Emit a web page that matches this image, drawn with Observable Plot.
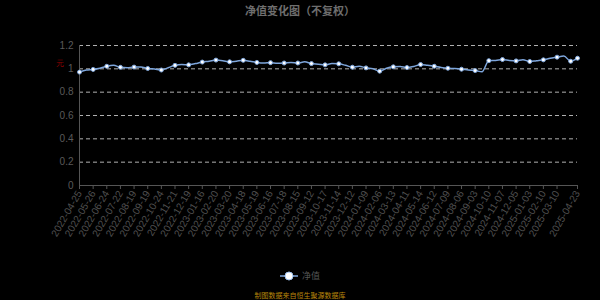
<!DOCTYPE html>
<html>
<head>
<meta charset="utf-8">
<script src="https://cdn.jsdelivr.net/npm/d3@7"></script>
<script src="https://cdn.jsdelivr.net/npm/@observablehq/plot@0.6"></script>
<style>
  html, body { margin: 0; padding: 0; background: #000; }
  #wrap { position: relative; width: 600px; height: 300px; background: #000; overflow: hidden;
          font-family: "Liberation Sans", "Noto Sans CJK SC", sans-serif; }
  #title { position: absolute; left: 0; top: 3px; width: 600px; text-align: center;
           font: bold 11px "Noto Sans CJK SC", sans-serif; color: #6e6e6e; line-height: 14px; }
  #chart { position: absolute; left: 0; top: 22px; }
  #legend { position: absolute; left: 0; top: 269px; width: 600px; height: 14px; }
  #caption { position: absolute; left: 0; top: 290px; width: 600px; text-align: center;
             font: 7px "Noto Sans CJK SC", sans-serif; color: #b8860b; line-height: 10px; }
</style>
</head>
<body>
<div id="wrap">
  <div id="title">净值变化图（不复权）</div>
  <div id="chart"></div>
  <div id="legend"></div>
  <div id="caption">制图数据来自恒生聚源数据库</div>
</div>
<script>
// Sampled trading dates (every ~10 trading days) and unit NAV
const sampleDates = [
  "2022-04-25","2022-05-11","2022-05-26","2022-06-09","2022-06-24","2022-07-08","2022-07-22","2022-08-05",
  "2022-08-19","2022-09-02","2022-09-19","2022-10-10","2022-10-24","2022-11-07","2022-11-21","2022-12-05",
  "2022-12-19","2023-01-03","2023-01-16","2023-02-06","2023-02-20","2023-03-06","2023-03-20","2023-04-03",
  "2023-04-18","2023-05-05","2023-05-19","2023-06-02","2023-06-16","2023-07-04","2023-07-18","2023-08-01",
  "2023-08-15","2023-08-29","2023-09-12","2023-09-26","2023-10-17","2023-10-31","2023-11-14","2023-11-28",
  "2023-12-12","2023-12-26","2024-01-09","2024-01-23","2024-02-06","2024-02-27","2024-03-13","2024-03-27",
  "2024-04-11","2024-04-25","2024-05-14","2024-05-28","2024-06-12","2024-06-26","2024-07-09","2024-07-23",
  "2024-08-06","2024-08-20","2024-09-03","2024-09-18","2024-10-10","2024-10-24","2024-11-07","2024-11-21",
  "2024-12-05","2024-12-19","2025-01-03","2025-01-17","2025-02-10","2025-02-24","2025-03-10","2025-03-24",
  "2025-04-08","2025-04-23"
];
const navValues = [
  0.972, 0.990, 0.995, 1.005, 1.022, 1.030, 1.013, 1.010,
  1.015, 1.015, 1.003, 0.998, 0.990, 1.010, 1.030, 1.038,
  1.034, 1.045, 1.058, 1.065, 1.075, 1.070, 1.060, 1.066,
  1.073, 1.065, 1.055, 1.050, 1.053, 1.048, 1.050, 1.055,
  1.050, 1.060, 1.045, 1.040, 1.034, 1.045, 1.043, 1.030,
  1.014, 1.022, 1.008, 1.000, 0.980, 1.005, 1.017, 1.020,
  1.011, 1.020, 1.037, 1.030, 1.022, 1.012, 1.005, 1.002,
  0.997, 0.990, 0.985, 0.975, 1.070, 1.072, 1.080, 1.072,
  1.068, 1.078, 1.063, 1.070, 1.077, 1.090, 1.100, 1.110,
  1.065, 1.091
];
// Dates shown as x tick labels
const labelDates = [
  "2022-04-25","2022-05-26","2022-06-24","2022-07-22","2022-08-19","2022-09-19","2022-10-24","2022-11-21",
  "2022-12-19","2023-01-16","2023-02-20","2023-03-20","2023-04-18","2023-05-19","2023-06-16","2023-07-18",
  "2023-08-15","2023-09-12","2023-10-17","2023-11-14","2023-12-12","2024-01-09","2024-02-06","2024-03-13",
  "2024-04-11","2024-05-14","2024-06-12","2024-07-09","2024-08-06","2024-09-03","2024-10-10","2024-11-07",
  "2024-12-05","2025-01-03","2025-02-10","2025-03-10","2025-04-23"
];
// Dates carrying a marker symbol
const markerDates = labelDates.concat(["2025-04-08"]);
const yTicks = [0, 0.2, 0.4, 0.6, 0.8, 1.0, 1.2];
const seriesName = "净值";
const yUnit = "元";

const data = sampleDates.map((d, i) => ({date: d, nav: navValues[i]}));
const markerSet = new Set(markerDates);
const markers = data.filter(d => markerSet.has(d.date));

const lineColor = "#7ea6dc";
const fmt = v => String(+v.toFixed(1));

const chart = Plot.plot({
  width: 600,
  height: 240,
  marginLeft: 79,
  marginRight: 23,
  marginTop: 23,
  marginBottom: 77,
  style: {background: "#000", color: "#555", fontFamily: "Liberation Sans, sans-serif", fontSize: "10px", overflow: "visible"},
  x: {type: "point", domain: sampleDates, padding: 0},
  y: {domain: [0, 1.2]},
  marks: [
    Plot.gridY(yTicks.filter(t => t > 0), {stroke: "#cfcfcf", strokeOpacity: 0.85, strokeDasharray: "4,3"}),
    Plot.axisY({ticks: yTicks, tickFormat: fmt, tickSize: 0, tickPadding: 6, label: null, fill: "#5a5a5a", fontSize: 10}),
    Plot.axisX({ticks: labelDates, tickRotate: -60, tickSize: 4, tickPadding: 2, label: null, stroke: "#555", fill: "#505050", fontSize: 10}),
    Plot.ruleY([0], {stroke: "#555"}),
    Plot.ruleX([sampleDates[0]], {y1: 0, y2: 1.2, stroke: "#555"}),
    Plot.text([yUnit], {frameAnchor: "top-left", dx: -24, dy: 15, fill: "#8b0000", fontSize: 8}),
    Plot.line(data, {x: "date", y: "nav", stroke: lineColor, strokeWidth: 1.5, curve: "monotone-x"}),
    Plot.dot(markers, {x: "date", y: "nav", r: 2, fill: "#fff", stroke: lineColor, strokeWidth: 1})
  ]
});
document.getElementById("chart").appendChild(chart);

// Legend
const legend = d3.select("#legend").append("svg").attr("width", 600).attr("height", 14);
legend.append("line").attr("x1", 280).attr("x2", 298).attr("y1", 7).attr("y2", 7)
  .attr("stroke", lineColor).attr("stroke-width", 1.5);
legend.append("circle").attr("cx", 289).attr("cy", 7).attr("r", 4)
  .attr("fill", "#fff").attr("stroke", "#9cc0ee").attr("stroke-width", 1);
legend.append("text").attr("x", 302).attr("y", 7).attr("dy", "0.35em")
  .attr("fill", "#555").attr("font-size", 9).attr("font-family", "Noto Sans CJK SC, sans-serif")
  .text(seriesName);
</script>
</body>
</html>
